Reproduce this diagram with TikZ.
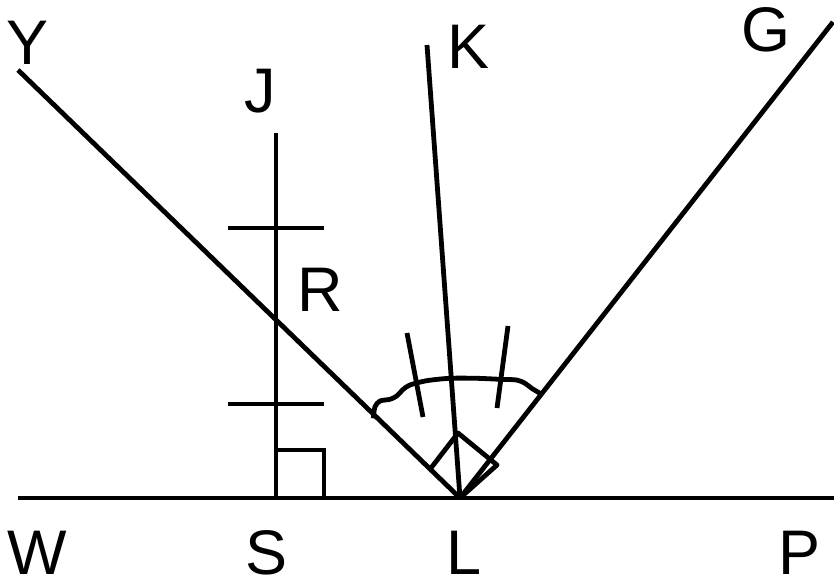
\documentclass[tikz,border=0pt]{standalone}
\usepackage{fontspec}
\setmainfont{Liberation Sans}
\begin{document}
\begin{tikzpicture}[x=1pt,y=-1pt,
  ln/.style={line width=4.8pt},
  lbl/.style={inner sep=0pt,font=\fontsize{63}{63}\selectfont}]
\useasboundingbox (0,0) rectangle (834,583);
% points
\coordinate (Wend) at (18,498);
\coordinate (Pend) at (834,498);
\coordinate (L) at (460,498);
\coordinate (Yend) at (18,70);
\coordinate (Gend) at (833,22);
\coordinate (Kend) at (427,45);
\coordinate (Jtop) at (276,133);
\coordinate (S) at (276,498);
\coordinate (t1a) at (228,228);
\coordinate (t1b) at (324,228);
\coordinate (t2a) at (228,404);
\coordinate (t2b) at (324,404);
\coordinate (sq1) at (276,450);
\coordinate (sq2) at (324,450);
\coordinate (sq3) at (324,498);
\coordinate (rA) at (431,468);
\coordinate (rC) at (458,433);
\coordinate (rB) at (497,465);
\coordinate (k1a) at (407,333);
\coordinate (k1b) at (423,417);
\coordinate (k2a) at (508,326);
\coordinate (k2b) at (497,408);
% lines
\draw[ln] (Wend) -- (Pend);
\draw[ln] (Yend) -- (L);
\draw[ln] (L) -- (Gend);
\draw[ln] (L) -- (Kend);
\draw[ln] (S) -- (Jtop);
\draw[ln] (t1a) -- (t1b);
\draw[ln] (t2a) -- (t2b);
\draw[ln] (sq1) -- (sq2) -- (sq3);
\draw[ln, line join=round] (rA) -- (rC) -- (rB) -- (L);
\draw[ln] (k1a) -- (k1b);
\draw[ln] (k2a) -- (k2b);
\draw[ln] plot[smooth, tension=0.5] coordinates {(373.3,418.3) (375,406.7) (380,401) (390,399.3) (396.7,396) (403.3,389.3) (410,385) (426.7,380.7) (450,378.3) (476.7,378.3) (500,379.3) (516.7,380) (525,383.3) (531.7,388.3) (540,393.3)};
% labels
\node[lbl] (Ylbl) at (28,43) {Y};
\node[lbl] (Jlbl) at (260,91) {J};
\node[lbl] (Klbl) at (469,47) {K};
\node[lbl] (Glbl) at (766,30) {G};
\node[lbl] (Rlbl) at (320,290) {R};
\node[lbl] (Wlbl) at (37,553) {W};
\node[lbl] (Slbl) at (267,553) {S};
\node[lbl] (Llbl) at (464,553) {L};
\node[lbl] (Plbl) at (799,553) {P};
\end{tikzpicture}
\end{document}
